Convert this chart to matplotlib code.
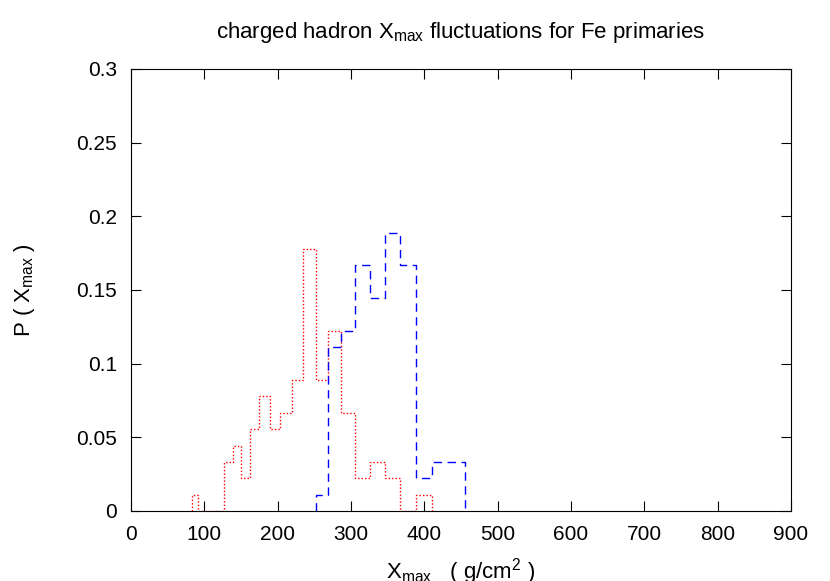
import matplotlib
matplotlib.use("Agg")
import matplotlib.pyplot as plt
import numpy as np

plt.rcParams['font.family'] = ['Liberation Sans', 'DejaVu Sans']
plt.rcParams['mathtext.fontset'] = 'custom'
plt.rcParams['mathtext.rm'] = 'Liberation Sans'
plt.rcParams['mathtext.it'] = 'Liberation Sans'

# bin edges (g/cm^2)
red_edges = [83, 91, 127, 139, 150, 162, 175, 189, 203, 219, 235, 252, 269, 287,
             306, 326, 346, 367, 388, 410]
red_vals = [0.0111, 0.0, 0.0333, 0.0444, 0.0222, 0.0556, 0.0778, 0.0556, 0.0667,
            0.0889, 0.1778, 0.0889, 0.1222, 0.0667, 0.0222, 0.0333, 0.0222, 0.0,
            0.0111]

blue_edges = [252, 269, 287, 306, 326, 346, 367, 388, 410, 433, 456]
blue_vals = [0.0111, 0.1111, 0.1222, 0.1667, 0.1444, 0.1889, 0.1667, 0.0222,
             0.0333, 0.0333]

xticks = [0, 100, 200, 300, 400, 500, 600, 700, 800, 900]
yticks = [0, 0.05, 0.1, 0.15, 0.2, 0.25, 0.3]
ytick_labels = ['0', '0.05', '0.1', '0.15', '0.2', '0.25', '0.3']


def outline(edges, vals):
    xs = [edges[0]]
    ys = [0.0]
    for i, v in enumerate(vals):
        xs += [edges[i], edges[i + 1]]
        ys += [v, v]
    xs.append(edges[-1])
    ys.append(0.0)
    return xs, ys


fig = plt.figure(figsize=(8.3, 5.81), dpi=100)
ax = fig.add_axes([131 / 830, 1 - 511 / 581, 660 / 830, 442 / 581])

rx, ry = outline(red_edges, red_vals)
bx, by = outline(blue_edges, blue_vals)
ax.plot(rx, ry, color='#ff0000', lw=1.0, linestyle=(0, (1, 1.5)))
ax.plot(bx, by, color='#0000ff', lw=1.0, linestyle=(0, (6, 4)))

ax.set_xlim(0, 900)
ax.set_ylim(0, 0.3)
ax.set_xticks(xticks)
ax.set_xticklabels([str(t) for t in xticks])
ax.set_yticks(yticks)
ax.set_yticklabels(ytick_labels)
ax.tick_params(direction='in', length=7, width=0.8, top=True, right=True,
               labelsize=15)
ax.tick_params(axis='y', pad=10)
ax.tick_params(axis='x', pad=10)
for s in ax.spines.values():
    s.set_linewidth(0.8)

ax.set_title(r'charged hadron X$_{\mathrm{max}}$ fluctuations for Fe primaries',
             fontsize=16, pad=22)
ax.set_xlabel(r'X$_{\mathrm{max}}$   ( g/cm$^{2}$ )', fontsize=16, labelpad=9)
ax.set_ylabel(r'P ( X$_{\mathrm{max}}$ )', fontsize=16, labelpad=28)

fig.savefig('out.png', dpi=100)
